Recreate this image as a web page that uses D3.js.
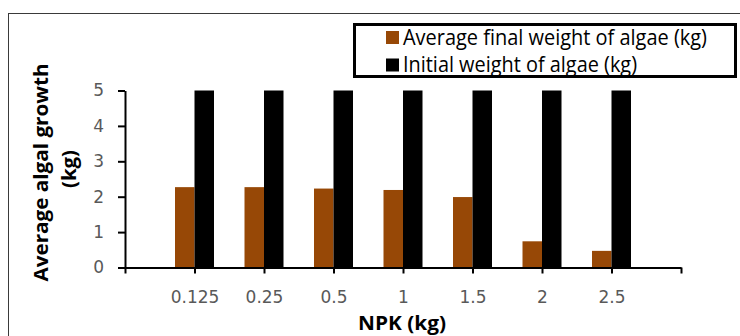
<!DOCTYPE html>
<html>
<head>
<meta charset="utf-8">
<script src="https://cdn.jsdelivr.net/npm/d3@7"></script>
<style>
  body { margin: 0; background: #fff; }
  svg { display: block; }
</style>
</head>
<body>
<svg id="chart" width="740" height="336"></svg>
<script>
// NPK amounts (x categories)
const categories = ["0.125", "0.25", "0.5", "1", "1.5", "2", "2.5"];
// average final weight of algae (kg)
const finalWeight = [2.27, 2.27, 2.23, 2.19, 1.99, 0.74, 0.47];
// initial weight of algae (kg)
const initialWeight = [5, 5, 5, 5, 5, 5, 5];
const yTicks = [0, 1, 2, 3, 4, 5];
const seriesNames = ["Average final weight of algae (kg)", "Initial weight of algae (kg)"];
const colors = ["#974806", "#000000"];

const svg = d3.select("#chart");

// outer chart border
svg.append("rect")
    .attr("x", 8.5).attr("y", 13.5)
    .attr("width", 740).attr("height", 340)
    .attr("fill", "none")
    .attr("stroke", "#3a3a3a")
    .attr("stroke-width", 1);

// blank slots at both ends so the labels sit on the tick marks
const x = d3.scalePoint()
    .domain(["", ...categories, " "])
    .range([125, 681]);

const y = d3.scaleLinear()
    .domain([0, 5])
    .range([267.5, 90.5]);

const barW = 19.5;

const rows = categories.map((c, i) => ({ cat: c, vals: [finalWeight[i], initialWeight[i]] }));

const groups = svg.selectAll(".grp")
    .data(rows)
    .enter()
    .append("g")
    .attr("class", "grp");

groups.selectAll("rect")
    .data(d => d.vals.map((v, k) => ({ cat: d.cat, v, k })))
    .enter()
    .append("rect")
    .attr("x", d => x(d.cat) + (d.k === 0 ? -barW : 0))
    .attr("y", d => y(d.v))
    .attr("width", barW)
    .attr("height", d => y(0) - y(d.v))
    .attr("fill", d => colors[d.k]);

// y axis
const yAxis = svg.append("g")
    .attr("transform", "translate(125,0)")
    .call(d3.axisLeft(y).tickValues(yTicks).tickFormat(d3.format("d"))
        .tickSize(7).tickSizeOuter(0).tickPadding(14));
yAxis.select(".domain").attr("stroke", "#000").attr("stroke-width", 2);
yAxis.selectAll(".tick line").attr("stroke", "#000").attr("stroke-width", 2);
yAxis.selectAll(".tick text")
    .attr("font-family", "DejaVu Sans")
    .attr("font-size", 17)
    .attr("fill", "#595959");

// x axis
const xAxis = svg.append("g")
    .attr("transform", "translate(0," + y(0) + ")")
    .call(d3.axisBottom(x).tickSize(6).tickSizeOuter(0).tickFormat(d => d.trim()));
xAxis.select(".domain").attr("stroke", "#000").attr("stroke-width", 2);
xAxis.selectAll(".tick line").attr("stroke", "#000").attr("stroke-width", 2);
xAxis.selectAll(".tick text")
    .attr("y", 23.5)
    .attr("font-family", "DejaVu Sans")
    .attr("font-size", 17)
    .attr("fill", "#595959");

// axis titles
svg.append("text")
    .attr("transform", "translate(48,172.5) rotate(-90)")
    .attr("text-anchor", "middle")
    .attr("font-family", "Open Sans")
    .attr("font-weight", "bold")
    .attr("font-size", 20)
    .attr("textLength", 218)
    .attr("lengthAdjust", "spacingAndGlyphs")
    .text("Average algal growth");
svg.append("text")
    .attr("transform", "translate(76,169) rotate(-90)")
    .attr("text-anchor", "middle")
    .attr("font-family", "Open Sans")
    .attr("font-weight", "bold")
    .attr("font-size", 20)
    .attr("textLength", 38)
    .attr("lengthAdjust", "spacingAndGlyphs")
    .text("(kg)");
svg.append("text")
    .attr("x", 402).attr("y", 330)
    .attr("text-anchor", "middle")
    .attr("font-family", "Open Sans")
    .attr("font-weight", "bold")
    .attr("font-size", 19)
    .attr("textLength", 88)
    .attr("lengthAdjust", "spacingAndGlyphs")
    .text("NPK (kg)");

// legend
const legend = svg.append("g");
legend.append("rect")
    .attr("x", 354.5).attr("y", 24.5)
    .attr("width", 381).attr("height", 52)
    .attr("fill", "#fff")
    .attr("stroke", "#000")
    .attr("stroke-width", 3);
const legendW = [304, 234];
seriesNames.forEach((name, i) => {
    legend.append("rect")
        .attr("x", 386).attr("y", 31 + i * 27.5)
        .attr("width", 13).attr("height", 13)
        .attr("fill", colors[i]);
    legend.append("text")
        .attr("x", 403).attr("y", 45 + i * 27)
        .attr("font-family", "Open Sans")
        .attr("font-size", 21)
        .attr("fill", "#000")
        .attr("textLength", legendW[i])
        .attr("lengthAdjust", "spacingAndGlyphs")
        .text(name);
});
</script>
</body>
</html>
